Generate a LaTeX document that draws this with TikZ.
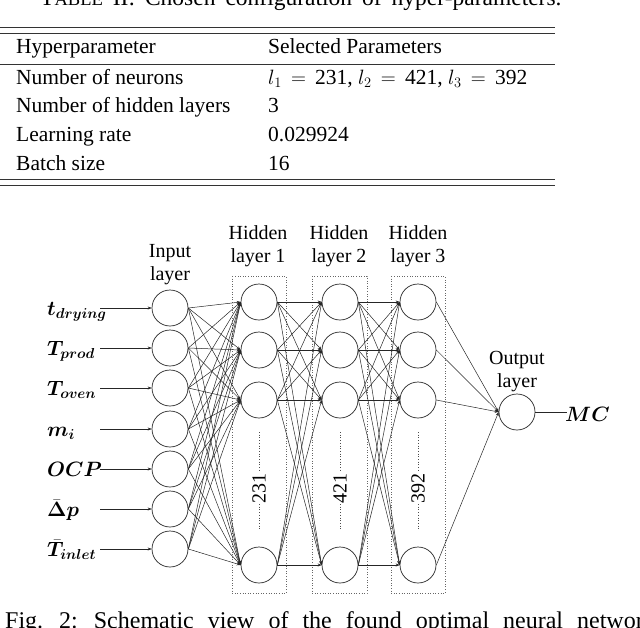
\documentclass[tikz,border=0pt]{standalone}
\usepackage{amsmath,bm}
\usepackage{fontspec}
\setmainfont{Liberation Serif}
\usetikzlibrary{arrows.meta}
\newcommand{\capfont}{\fontsize{24}{28}\selectfont\spaceskip=14pt plus 2pt\relax}
\newcommand{\tcapfont}{\fontsize{23.5}{28}\selectfont\spaceskip=10pt plus 2pt\relax}
\begin{document}
\begin{tikzpicture}[x=1pt,y=-1pt,
  neuron/.style={circle,draw=black!85,line width=0.7pt,minimum size=36pt,inner sep=0pt},
  conn/.style={line width=0.5pt,draw=black!85,-{Stealth[length=4pt,width=3pt]}},
  plain/.style={line width=0.5pt,draw=black!85},
  layerbox/.style={draw=black!60,dotted,line width=0.6pt},
  tabtxt/.style={anchor=base west,inner sep=0pt,font=\fontsize{21.5}{26}\selectfont},
  lbl/.style={align=center,inner sep=0pt,font=\fontsize{20}{23}\selectfont},
  inlbl/.style={anchor=base west,inner sep=0pt,font=\fontsize{22}{26}\selectfont},
  cnt/.style={rotate=90,inner sep=0pt,font=\fontsize{20}{23}\selectfont},
  rule/.style={line width=1pt,draw=black!80}]
\useasboundingbox (0,0) rectangle (640,627);
\clip (0,0) rectangle (640,627);
% captions (cut off)
\node[anchor=base west,inner sep=0pt,font=\tcapfont] (tcap) at (40,5) {T{\fontsize{18.5}{20}\selectfont ABLE} II: Chosen configuration of hyper-parameters.};
\node[anchor=base west,inner sep=0pt,font=\capfont] (fcap) at (5,628) {Fig. 2: Schematic view of the found optimal neural network};
% table
\draw[rule] (0,27.5) -- (555,27.5);
\draw[rule] (0,33) -- (555,33);
\draw[rule,line width=0.8pt] (0,64.3) -- (555,64.3);
\draw[rule] (0,179.5) -- (555,179.5);
\draw[rule] (0,185.5) -- (555,185.5);
\node[tabtxt] (h1t) at (16,53) {Hyperparameter};
\node[tabtxt] (h2t) at (268,53) {Selected Parameters};
\node[tabtxt] (r1a) at (16,84) {Number of neurons};
\node[tabtxt] (r1b) at (268,84) {$l_1 \mathrel{\,=\,} \text{231}$, $l_2 \mathrel{\,=\,} \text{421}$, $l_3 \mathrel{\,=\,} \text{392}$};
\node[tabtxt] (r2a) at (16,112.7) {Number of hidden layers};
\node[tabtxt] (r2b) at (268,112.7) {3};
\node[tabtxt] (r3a) at (16,141.3) {Learning rate};
\node[tabtxt] (r3b) at (268,141.3) {0.029924};
\node[tabtxt] (r4a) at (16,170) {Batch size};
\node[tabtxt] (r4b) at (268,170) {16};
% layer boxes
\draw[layerbox] (232,276) rectangle (286,593);
\draw[layerbox] (312,276) rectangle (367,593);
\draw[layerbox] (391,276) rectangle (445,593);
% labels
\node[lbl] (linp) at (170,265) {Input\\layer};
\node[lbl] (lh1) at (258,246.5) {Hidden\\layer 1};
\node[lbl] (lh2) at (339,246.5) {Hidden\\layer 2};
\node[lbl] (lh3) at (418,246.5) {Hidden\\layer 3};
\node[lbl] (lout) at (517,371.5) {Output\\layer};
% input neurons
\foreach \i/\y in {1/308,2/348,3/388,4/429,5/469,6/509,7/549}{
  \node[neuron] (in\i) at (170,\y) {};
  \coordinate (s\i) at (100,\y);
}
% hidden neurons
\foreach \l/\x in {1/259,2/340,3/418}{
  \foreach \j/\y in {1/302,2/350,3/400,4/565}{
    \node[neuron] (h\l\j) at (\x,\y) {};
  }
}
\node[neuron] (out) at (517,412) {};
% input labels
\node[inlbl] (t1) at (47,315.5) {$\bm{t_{drying}}$};
\node[inlbl] (t2) at (47,355.5) {$\bm{T_{prod}}$};
\node[inlbl] (t3) at (47,395.5) {$\bm{T_{oven}}$};
\node[inlbl] (t4) at (47,436.5) {$\bm{m_{i}}$};
\node[inlbl] (t5) at (47,476.5) {$\bm{OCP}$};
\node[inlbl] (t6) at (47,516.5) {$\bm{\bar{\Delta} p}$};
\node[inlbl] (t7) at (47,556.5) {$\bm{\bar{T}_{inlet}}$};
\node[inlbl] (tmc) at (565,421) {$\bm{MC}$};
\coordinate (mce) at (567,412);
% input arrows
\foreach \i in {1,...,7}{ \draw[conn] (s\i) -- (in\i.west); }
% input -> hidden 1
\foreach \i in {1,...,7}{
  \foreach \j in {1,...,4}{ \draw[conn] (in\i.east) -- (h1\j.west); }
}
% hidden 1 -> hidden 2 -> hidden 3
\foreach \i in {1,...,4}{
  \foreach \j in {1,...,4}{
    \draw[conn] (h1\i.east) -- (h2\j.west);
    \draw[conn] (h2\i.east) -- (h3\j.west);
  }
  \draw[conn] (h3\i.east) -- (out.west);
}
\draw[plain] (out.east) -- (mce);
% counts
\foreach \l/\x/\n in {1/259/231,2/340/421,3/418/392}{
  \draw[dotted,line width=0.7pt,draw=black!70] (\x,432) -- (\x,472);
  \draw[dotted,line width=0.7pt,draw=black!70] (\x,504) -- (\x,530);
  \node[cnt] (c\l) at (\x,488) {\n};
}
\end{tikzpicture}
\end{document}
